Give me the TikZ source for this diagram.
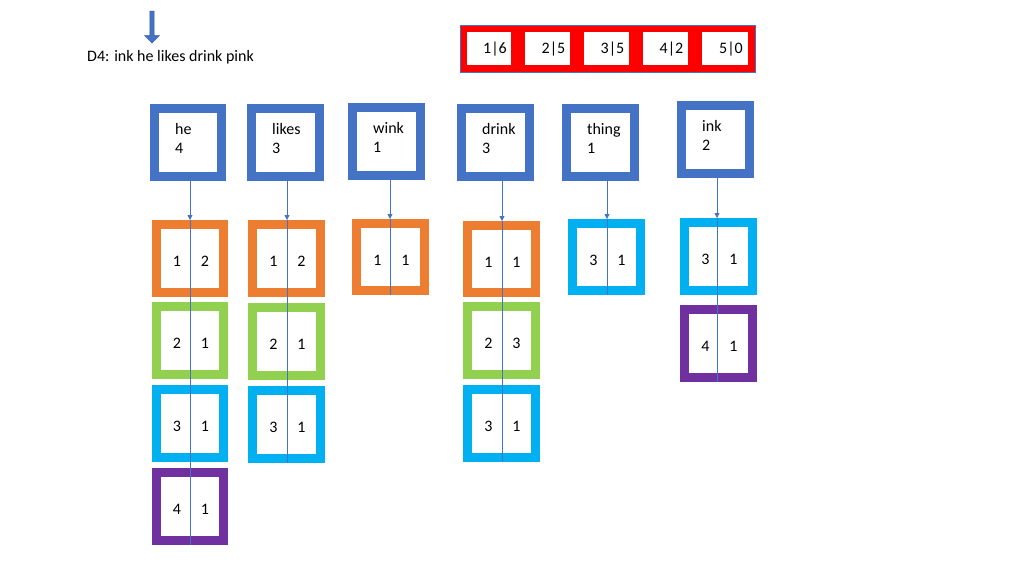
\documentclass[tikz,border=0pt]{standalone}
\usepackage{fontspec}
\setmainfont{Carlito}
\usetikzlibrary{arrows.meta,shapes.arrows}
\definecolor{cb}{HTML}{4472C4}
\definecolor{co}{HTML}{ED7D31}
\definecolor{cg}{HTML}{92D050}
\definecolor{cc}{HTML}{00B0F0}
\definecolor{cp}{HTML}{7030A0}
\definecolor{cr}{HTML}{FF0000}
\tikzset{
 x=1pt,y=-1pt,
 fr/.style={line width=9pt},
 txt/.style={font=\fontsize{16}{19}\selectfont,inner sep=0pt},
 cl/.style={draw=cb,line width=0.8pt},
}
\newcommand{\wbox}[5]{% x1,y1,x2,y2,{text}
 \draw[fr,cb] (#1+4.5,#2+4.5) rectangle (#3-4.5,#4-4.5);
 \node[txt,anchor=north west,align=left] at (#1+25,#2+19) {#5};}
\newcommand{\pbox}[7]{% x1,y1,x2,y2,color,a,b
 \draw[fr,#5] (#1+4.5,#2+4.5) rectangle (#3-4.5,#4-4.5);
 \node[txt] at ({(#1+#3)/2-13},{(#2+#4)/2+3}) {#6};
 \node[txt] at ({(#1+#3)/2+15},{(#2+#4)/2+3}) {#7};}
\begin{document}
\begin{tikzpicture}
\useasboundingbox[fill=white] (0,0) rectangle (1024,576);
% top arrow
\node[single arrow,fill=cb,draw=cb!80!black,line width=0.4pt,shape border rotate=270,minimum width=15pt,single arrow head extend=3pt,minimum height=32pt,inner sep=1pt] (arr) at (152,26) {};
\node[txt,anchor=west] (title) at (87,57) {D4: ink he likes drink pink};
% red boxes
\foreach \a/\b/\t in {460/518/1|6,518/577/2|5,577/636/3|5,636/695/4|2,695/755/5|0}{
 \draw[line width=7pt,cr] (\a+3.5,28.5) rectangle (\b-3.5,68.5);
 \node[txt] at ({(\a+\b)/2+6},49) {\t};
 \draw[cb,line width=0.6pt] (\b,25) -- (\b,72);
}
\draw[cb,line width=0.6pt] (460,25) rectangle (755,72);
% word boxes
\wbox{150}{104}{226}{181}{he\\4}
\wbox{247}{104}{324}{181}{likes\\3}
\wbox{348}{103}{425}{180}{wink\\1}
\wbox{457}{104}{534}{181}{drink\\3}
\wbox{562}{104}{639}{181}{thing\\1}
\wbox{677}{101}{754}{178}{ink\\2}
% postings
\pbox{152}{220}{228}{297}{co}{1}{2}
\pbox{152}{302}{228}{379}{cg}{2}{1}
\pbox{152}{385}{228}{462}{cc}{3}{1}
\pbox{152}{468}{228}{545}{cp}{4}{1}
\pbox{248}{220}{325}{297}{co}{1}{2}
\pbox{248}{303}{325}{380}{cg}{2}{1}
\pbox{248}{386}{325}{463}{cc}{3}{1}
\pbox{352}{219}{429}{295}{co}{1}{1}
\pbox{463}{221}{540}{297}{co}{1}{1}
\pbox{463}{302}{540}{379}{cg}{2}{3}
\pbox{463}{385}{540}{462}{cc}{3}{1}
\pbox{568}{219}{645}{295}{cc}{3}{1}
\pbox{680}{218}{757}{295}{cc}{3}{1}
\pbox{680}{305}{757}{382}{cp}{4}{1}
% center lines and arrows
\foreach \x/\a/\b/\c in {190/181/220/545,287/181/220/463,390/180/219/295,502/181/221/462,607/181/219/295,717/178/218/382}{
 \coordinate (s\x) at (\x,\a); \coordinate (t\x) at (\x,\b); \coordinate (e\x) at (\x,\c);
 \draw[cl,-{Triangle[length=5pt,width=5pt]}] (s\x) -- (t\x);
 \draw[cl] (t\x) -- (e\x);
}
\end{tikzpicture}
\end{document}
